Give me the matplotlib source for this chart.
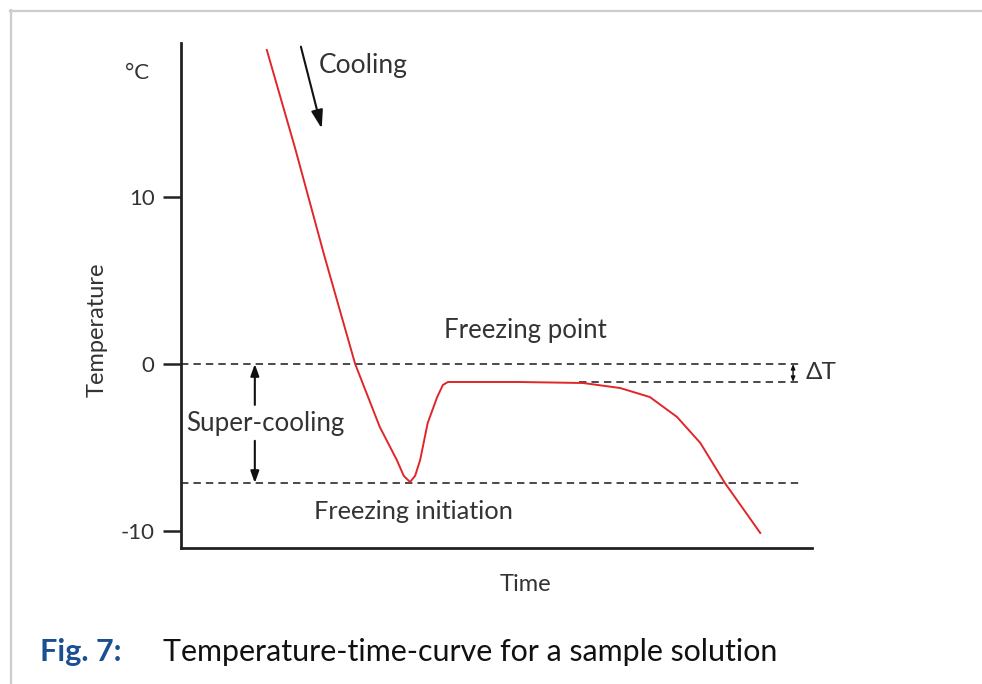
import matplotlib
matplotlib.use('Agg')
import matplotlib.pyplot as plt
from matplotlib.lines import Line2D

# temperature-time curve (time in arbitrary units 0-100)
time = [13.6, 18.1, 22.7, 27.6, 31.5, 34.2, 35.3, 36.3, 37.1, 37.9, 39.1, 40.6, 41.5, 42.3,
        53.7, 63.7, 69.6, 74.3, 78.6, 82.3, 86.2, 91.8]
temp = [18.8, 12.9, 6.5, 0.0, -3.77, -5.75, -6.7, -7.07, -6.7, -5.75, -3.53, -1.98, -1.26, -1.08,
        -1.08, -1.14, -1.44, -1.98, -3.17, -4.73, -7.13, -10.12]

freezing_point = 0.0
plateau = -1.08
freezing_init = -7.13
yticks = [10, 0, -10]
ytick_labels = ['10', '0', '-10']

label_font = ['Lato', 'DejaVu Sans']
txtc = '#333333'
dash = (0, (3.8, 2.6))

fig = plt.figure(figsize=(9.82, 6.84), dpi=100)
ax = fig.add_axes([181/982, (684-548)/684, (812-181)/982, (548-43)/684])
ax.set_xlim(0, 100)
ax.set_ylim(-11.02, 19.22)

ax.axhline(freezing_point, xmin=0, xmax=0.986, color='#4a4a4a', lw=1.4, ls=dash)
ax.axhline(plateau, xmin=0.63, xmax=0.986, color='#4a4a4a', lw=1.4, ls=dash)
ax.axhline(freezing_init, xmin=0, xmax=0.986, color='#4a4a4a', lw=1.4, ls=dash)

ax.plot(time, temp, color='#e0262a', lw=1.4, solid_joinstyle='round')

for s in ['top', 'right']:
    ax.spines[s].set_visible(False)
for s in ['left', 'bottom']:
    ax.spines[s].set_linewidth(2.0)
    ax.spines[s].set_color('#222222')
ax.set_xticks([])
ax.set_yticks(yticks)
ax.set_yticklabels(ytick_labels, family=label_font, fontsize=16, color=txtc)
ax.tick_params(axis='y', length=13, width=1.8, color='#222222', pad=6)

ax.set_xlabel('Time', family=label_font, fontsize=17, color=txtc)
ax.xaxis.set_label_coords((525-181)/631, -0.052)
ax.set_ylabel('Temperature', family=label_font, fontsize=17, color=txtc)
ax.yaxis.set_label_coords(-0.117, (548-330)/505)

ax.text(-0.07, 0.94, '°C', transform=ax.transAxes, family=label_font, fontsize=16,
        color=txtc, ha='center', va='center')

# cooling arrow
ax.annotate('', xy=(22.3, 14.1), xytext=(19.0, 19.0),
            arrowprops=dict(arrowstyle='-|>,head_length=1.1,head_width=0.35', color='#111111', lw=1.5,
                            shrinkA=0, shrinkB=0))
ax.text(21.9, 17.9, 'Cooling', family=label_font, fontsize=19, color=txtc, ha='left', va='center')

ax.text(54.5, 2.0, 'Freezing point', family=label_font, fontsize=18.5, color=txtc,
        ha='center', va='center')
ax.text(36.8, -8.85, 'Freezing initiation', family=label_font, fontsize=18.3, color=txtc,
        ha='center', va='center')
ax.text(13.4, -3.55, 'Super-cooling', family=label_font, fontsize=18.6, color=txtc,
        ha='center', va='center')

# super-cooling arrows
ax.annotate('', xy=(11.7, freezing_point), xytext=(11.7, -2.45),
            arrowprops=dict(arrowstyle='-|>,head_length=0.7,head_width=0.25', color='#111111', lw=1.5,
                            shrinkA=0, shrinkB=0))
ax.annotate('', xy=(11.7, freezing_init), xytext=(11.7, -4.6),
            arrowprops=dict(arrowstyle='-|>,head_length=0.7,head_width=0.25', color='#111111', lw=1.5,
                            shrinkA=0, shrinkB=0))

# delta T arrow
ax.annotate('', xy=(97.0, freezing_point), xytext=(97.0, plateau),
            arrowprops=dict(arrowstyle='<|-|>,head_length=0.3,head_width=0.12', color='#111111', lw=1.0,
                            shrinkA=0, shrinkB=0))
ax.text(99.0, -0.54, 'ΔT', family=label_font, fontsize=17.5, color=txtc, ha='left', va='center',
        clip_on=False)

# caption
fig.text(40/982, 1 - 652/684, 'Fig. 7:', family=label_font,
         fontsize=22, fontweight='bold', color='#1a4f91', ha='left', va='center')
fig.text(163/982, 1 - 652/684, 'Temperature-time-curve for a sample solution',
         family=label_font, fontsize=21.9, color='#111111', ha='left', va='center')

# light frame
fig.add_artist(Line2D([10/982, 1], [1 - 10.5/684, 1 - 10.5/684], color='#cccccc', lw=1.6))
fig.add_artist(Line2D([10.5/982, 10.5/982], [0, 1 - 10/684], color='#cccccc', lw=1.6))

fig.savefig('out.png', dpi=100)
